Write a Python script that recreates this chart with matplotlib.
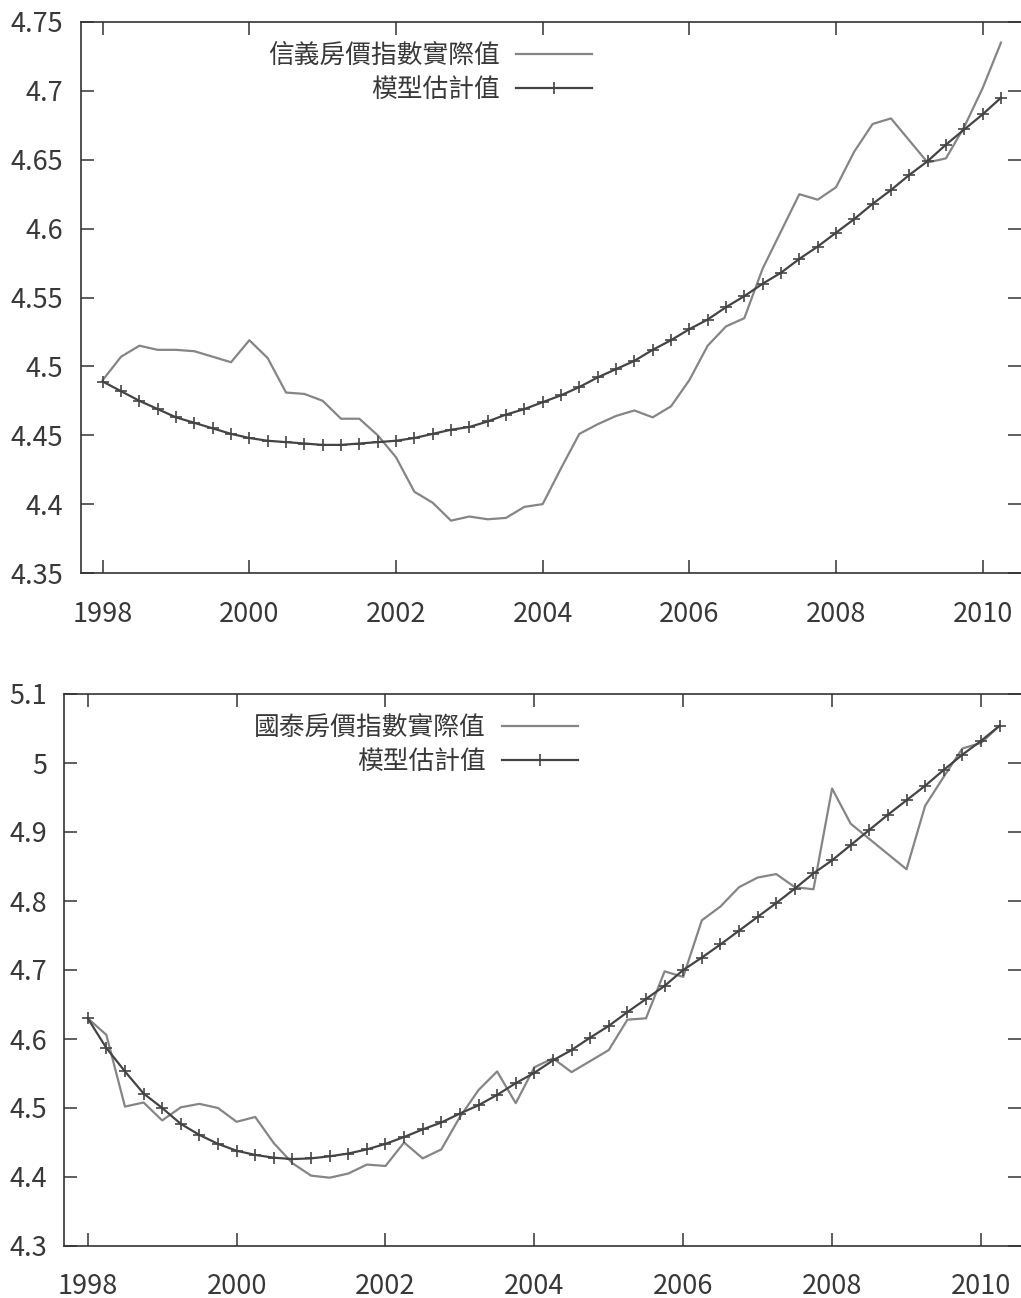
import matplotlib
matplotlib.use("Agg")
import matplotlib.pyplot as plt
from matplotlib.ticker import FixedLocator, FuncFormatter
import numpy as np

plt.rcParams['font.family'] = ['Noto Sans CJK TC', 'DejaVu Sans']

# quarterly observations, 1998Q1 .. 2010Q2
quarters = 1998 + 0.25 * np.arange(50)

# 信義房價指數 (log)
sinyi_actual = [
    4.490, 4.507, 4.515, 4.512, 4.512, 4.511, 4.507, 4.503, 4.519, 4.506,
    4.481, 4.480, 4.475, 4.462, 4.462, 4.450, 4.434, 4.409, 4.401, 4.388,
    4.391, 4.389, 4.390, 4.398, 4.400, 4.426, 4.451, 4.458, 4.464, 4.468,
    4.463, 4.471, 4.490, 4.515, 4.529, 4.535, 4.571, 4.598, 4.625, 4.621,
    4.630, 4.656, 4.676, 4.680, 4.664, 4.648, 4.651, 4.674, 4.702, 4.735,
]
sinyi_model = [
    4.489, 4.482, 4.475, 4.469, 4.463, 4.459, 4.455, 4.451, 4.448, 4.446,
    4.445, 4.444, 4.443, 4.443, 4.444, 4.445, 4.446, 4.448, 4.451, 4.454,
    4.456, 4.460, 4.465, 4.469, 4.474, 4.479, 4.485, 4.492, 4.498, 4.504,
    4.512, 4.519, 4.527, 4.534, 4.543, 4.551, 4.560, 4.568, 4.578, 4.587,
    4.597, 4.607, 4.618, 4.628, 4.639, 4.649, 4.661, 4.672, 4.683, 4.695,
]

# 國泰房價指數 (log)
cathay_actual = [
    4.630, 4.606, 4.502, 4.508, 4.482, 4.501, 4.506, 4.500, 4.480, 4.487,
    4.449, 4.420, 4.402, 4.399, 4.405, 4.418, 4.416, 4.450, 4.427, 4.440,
    4.487, 4.526, 4.553, 4.507, 4.559, 4.572, 4.552, 4.568, 4.584, 4.628,
    4.630, 4.698, 4.690, 4.772, 4.792, 4.820, 4.834, 4.839, 4.820, 4.817,
    4.963, 4.912, 4.890, 4.868, 4.846, 4.938, 4.980, 5.021, 5.029, 5.054,
]
cathay_model = [
    4.630, 4.587, 4.553, 4.521, 4.500, 4.477, 4.461, 4.448, 4.438, 4.432,
    4.428, 4.426, 4.427, 4.430, 4.434, 4.440, 4.448, 4.458, 4.469, 4.479,
    4.492, 4.504, 4.519, 4.536, 4.551, 4.569, 4.584, 4.602, 4.619, 4.639,
    4.658, 4.677, 4.700, 4.718, 4.737, 4.757, 4.777, 4.797, 4.818, 4.840,
    4.859, 4.881, 4.903, 4.925, 4.946, 4.967, 4.990, 5.012, 5.032, 5.054,
]

year_ticks = [1998, 2000, 2002, 2004, 2006, 2008, 2010]
sinyi_yticks = [4.35, 4.4, 4.45, 4.5, 4.55, 4.6, 4.65, 4.7, 4.75]
cathay_yticks = [4.3, 4.4, 4.5, 4.6, 4.7, 4.8, 4.9, 5.0, 5.1]

W, H = 1021, 1298
fig = plt.figure(figsize=(W / 100, H / 100), dpi=100)

AXIS_COLOR = '#333333'
ACTUAL_COLOR = '#858585'
MODEL_COLOR = '#444444'


def px_axes(left, top, right, bottom):
    return fig.add_axes([left / W, 1 - bottom / H, (right - left) / W, (bottom - top) / H])


def style_axes(ax, xlim, yticks, ypad, xpad):
    ax.set_xlim(*xlim)
    ax.set_ylim(yticks[0], yticks[-1])
    ax.xaxis.set_major_locator(FixedLocator(year_ticks))
    ax.yaxis.set_major_locator(FixedLocator(yticks))
    ax.yaxis.set_major_formatter(FuncFormatter(lambda v, p: '%g' % round(v, 3)))
    ax.xaxis.set_major_formatter(FuncFormatter(lambda v, p: '%d' % v))
    ax.tick_params(direction='in', length=9.4, width=1.1, color=AXIS_COLOR,
                   top=True, right=True, labelsize=19.5, labelcolor='#383838')
    ax.tick_params(axis='y', pad=ypad)
    ax.tick_params(axis='x', pad=xpad)
    for side in ('left', 'bottom', 'top'):
        ax.spines[side].set_color(AXIS_COLOR)
        ax.spines[side].set_linewidth(1.2)
    ax.spines['right'].set_visible(False)


def draw_panel(ax, actual, model, label, legend_anchor):
    ax.plot(quarters, actual, color=ACTUAL_COLOR, lw=1.6, label=label)
    ax.plot(quarters, model, color=MODEL_COLOR, lw=1.6, marker='+',
            markersize=9, markeredgewidth=1.2, label='模型估計值')
    ax.legend(loc='upper right', bbox_to_anchor=legend_anchor,
              bbox_transform=fig.transFigure, frameon=False, markerfirst=False,
              fontsize=18.5, handlelength=2.95, handletextpad=0.65,
              labelspacing=0.3, borderpad=0, borderaxespad=0, numpoints=1,
              labelcolor='#383838')


ax1 = px_axes(81, 22, 1021, 573)
draw_panel(ax1, sinyi_actual, sinyi_model, '信義房價指數實際值', (592 / W, 1 - 43 / H))
style_axes(ax1, (1997.704, 2010.523), sinyi_yticks, 13, 20)

ax2 = px_axes(64, 694, 1021, 1246)
draw_panel(ax2, cathay_actual, cathay_model, '國泰房價指數實際值', (578 / W, 1 - 715 / H))
style_axes(ax2, (1997.681, 2010.538), cathay_yticks, 12, 19.5)

fig.savefig('out.png', dpi=100)
